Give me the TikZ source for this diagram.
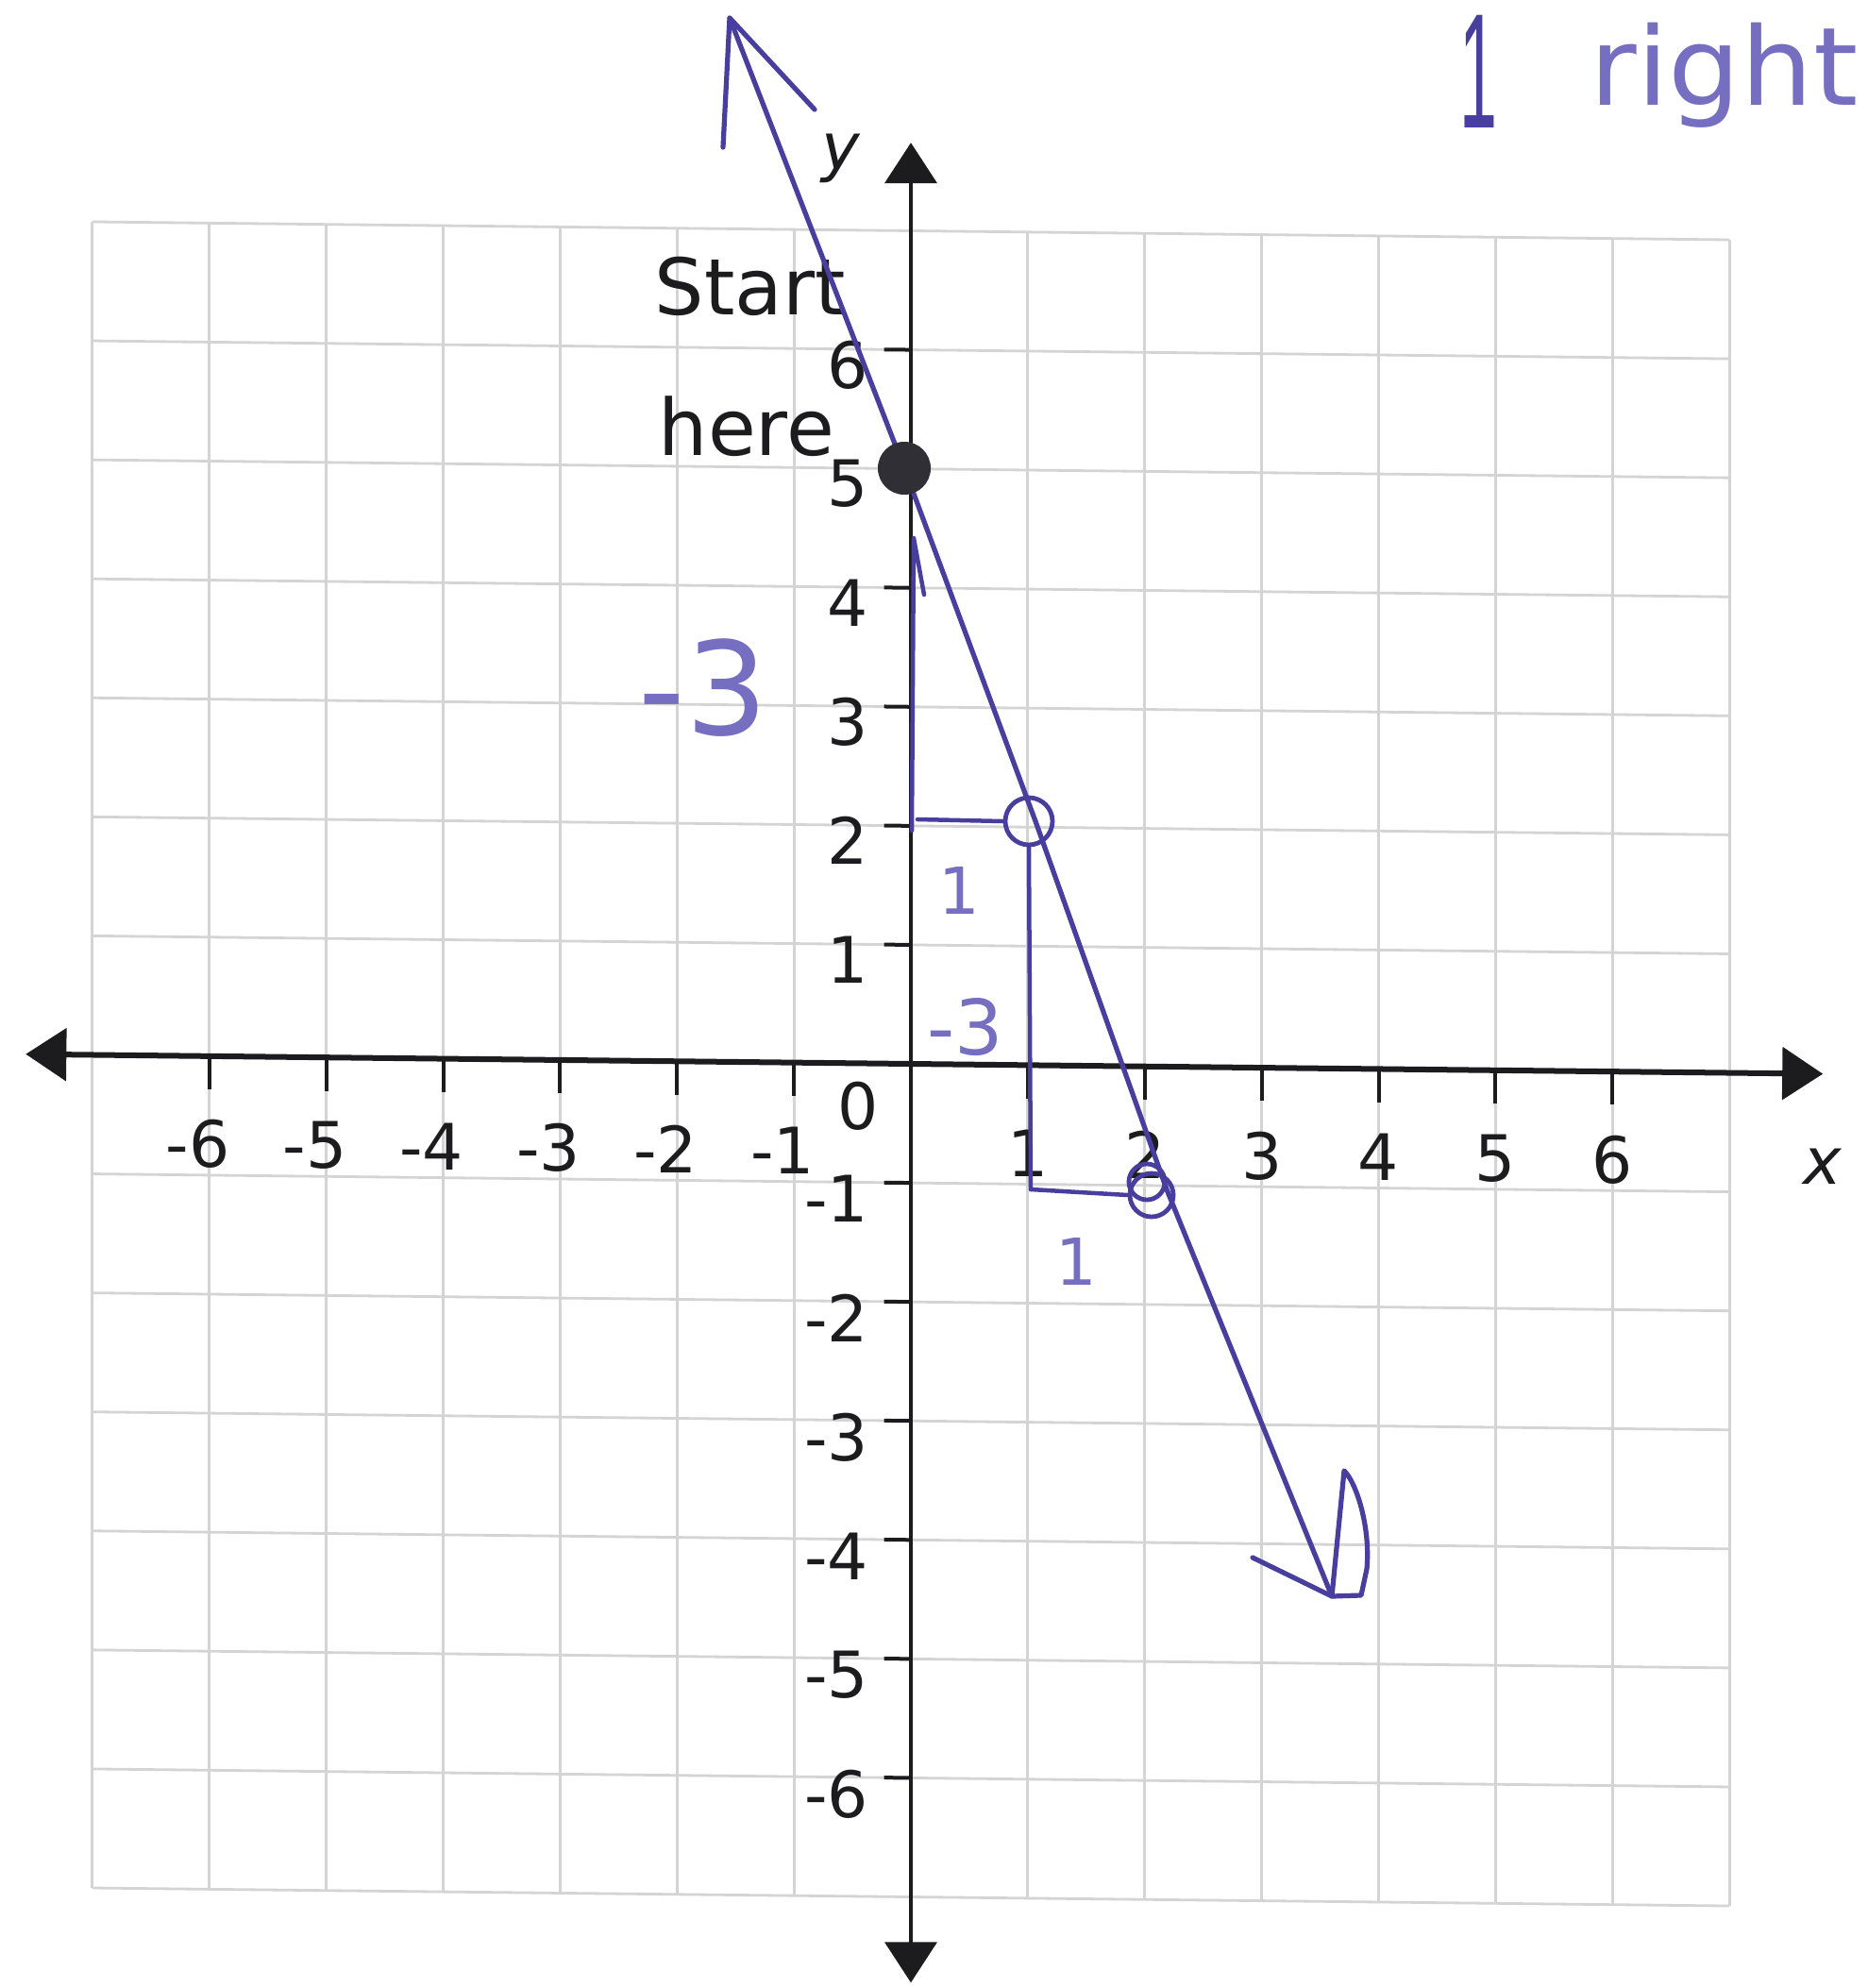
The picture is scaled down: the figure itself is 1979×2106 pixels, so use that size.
\documentclass[tikz,border=0pt]{standalone}
\usepackage{fontspec}
\setmainfont{DejaVu Sans}
\newfontfamily\barfont{Liberation Sans}
\usetikzlibrary{arrows.meta}
\definecolor{pen}{RGB}{72,62,158}
\definecolor{penlight}{RGB}{118,110,192}
\definecolor{gridgray}{RGB}{212,212,212}
\definecolor{ink}{RGB}{28,28,30}
\definecolor{dotc}{RGB}{48,47,54}
\begin{document}
\begin{tikzpicture}[x=0.01cm,y=-0.01cm,
  gridline/.style={draw=gridgray,line width=0.028cm},
  axisline/.style={draw=ink,line width=0.06cm},
  axtip/.tip={Triangle[length=0.43cm,width=0.55cm]},
  tickmark/.style={draw=ink,line width=0.04cm},
  numlab/.style={font=\fontsize{19.3}{22}\selectfont,text=ink,inner sep=0pt},
  axlab/.style={font=\fontsize{19.5}{22}\selectfont\itshape,text=ink,inner sep=0pt},
  bigtext/.style={font=\fontsize{23.5}{28}\selectfont,text=ink,inner sep=0pt,anchor=base west},
  penline/.style={draw=pen,line width=0.052cm,line cap=round,line join=round},
  penring/.style={circle,draw=pen,line width=0.048cm,inner sep=0pt},
  hand/.style={text=penlight,inner sep=0pt,anchor=base}
]
\useasboundingbox (0,0) rectangle (1979,2106);
\fill[white] (0,0) rectangle (1979,2106);

\begin{scope}[shift={(965,1127)},x={(1.238cm,-0.0136cm)},y={(0cm,1.26cm)}]
  % grid
  \foreach \i in {-7,...,7} {
    \draw[gridline] (\i,-7) -- (\i,7);
    \draw[gridline] (-7,\i) -- (7,\i);
  }
  % axes
  \coordinate (xleft) at (-7.57,0);
  \coordinate (xright) at (7.8,0);
  \coordinate (ytop) at (0,7.74);
  \coordinate (ybottom) at (0,-7.72);
  \draw[axisline,axtip-axtip] (xleft) -- (xright);
  \draw[axisline,line width=0.042cm,axtip-axtip] (ybottom) -- (ytop);
  % ticks and labels
  \foreach \i in {1,...,6} {
    \draw[tickmark] (\i,0) -- (\i,-0.28);
    \draw[tickmark] (-\i,0) -- (-\i,-0.28);
    \draw[tickmark] (0,\i) -- (-0.23,\i);
    \draw[tickmark] (0,-\i) -- (-0.23,-\i);
    \node[numlab] (xp\i) at (\i,-0.74) {\i};
    \node[numlab] (xn\i) at (-\i,-0.74) {\llap{-}\i};
    \node[numlab,anchor=east] (yp\i) at (-0.36,\i-0.13) {\i};
    \node[numlab,anchor=east] (yn\i) at (-0.36,-\i-0.14) {-\i};
  }
  \node[numlab] (zero) at (-0.45,-0.36) {0};
  \node[axlab] (xname) at (7.8,-0.78) {x};
  \node[axlab] (yname) at (-0.6,7.6) {y};
\end{scope}

% printed "Start here"
\node[bigtext] (start) at (693,333) {Start};
\node[bigtext] (here) at (697,482) {here};

% handwritten line through the points
\coordinate (apex) at (773,19);
\coordinate (arrL) at (766,156);
\coordinate (arrR) at (863,116);
\coordinate (pa) at (1097,870);
\coordinate (pb) at (1236,1260);
\coordinate (tipE) at (1411,1691);
\coordinate (barbL) at (1327,1650);
\coordinate (barbT) at (1424,1558);
\coordinate (barbB) at (1442,1690);
\coordinate (dotpos) at (958,496);

\draw[penline] (apex) -- (dotpos) -- (pa) -- (pb) -- (tipE);
\draw[penline] (arrL) -- (apex) -- (arrR);
\draw[penline] (barbL) -- (tipE) -- (barbT)
  .. controls (1438,1572) and (1452,1620) .. (1448,1662) -- (barbB) -- (tipE);

% rise / run steps
\coordinate (r1a) at (966,880);
\coordinate (r1b) at (968,570);
\coordinate (r1c) at (979,630);
\draw[penline,line width=0.045cm] (r1a) -- (r1b) -- (r1c);
\node[penring,minimum size=0.5cm] (ring1) at (1090,870) {};
\coordinate (run1) at (972,868);
\draw[penline,line width=0.045cm] (run1) -- (ring1.west);
\coordinate (r2b) at (1092,1260);
\draw[penline,line width=0.045cm] (ring1.south) -- (r2b);
\node[penring,minimum size=0.46cm] (ring2) at (1220,1266) {};
\node[penring,minimum size=0.38cm] (ring2b) at (1215,1252) {};
\draw[penline,line width=0.045cm] (r2b) -- (ring2.west);

% the dot where to start
\node[circle,fill=dotc,inner sep=0pt,minimum size=0.56cm] (dot) at (dotpos) {};

% handwritten numbers
\node[hand,anchor=base west,font=\fontsize{39}{44}\selectfont] (riseA) at (676,778) {-3};
\node[hand,font=\fontsize{19.5}{22}\selectfont] (runA) at (1016,968) {1};
\node[hand,anchor=base west,font=\fontsize{23}{26}\selectfont] (riseB) at (982,1117) {-3};
\node[hand,font=\fontsize{19.5}{22}\selectfont] (runB) at (1140,1361) {1};

% handwritten note at the top right
\node[hand,text=pen,font=\fontsize{34}{40}\barfont\selectfont] (noteone) at (1566,136) {\scalebox{0.6}[1.45]{1}};
\node[hand,anchor=base west,font=\fontsize{32.7}{38}\selectfont] (noteright) at (1684,112) {\scalebox{1.05}[1]{right}};
\end{tikzpicture}
\end{document}
